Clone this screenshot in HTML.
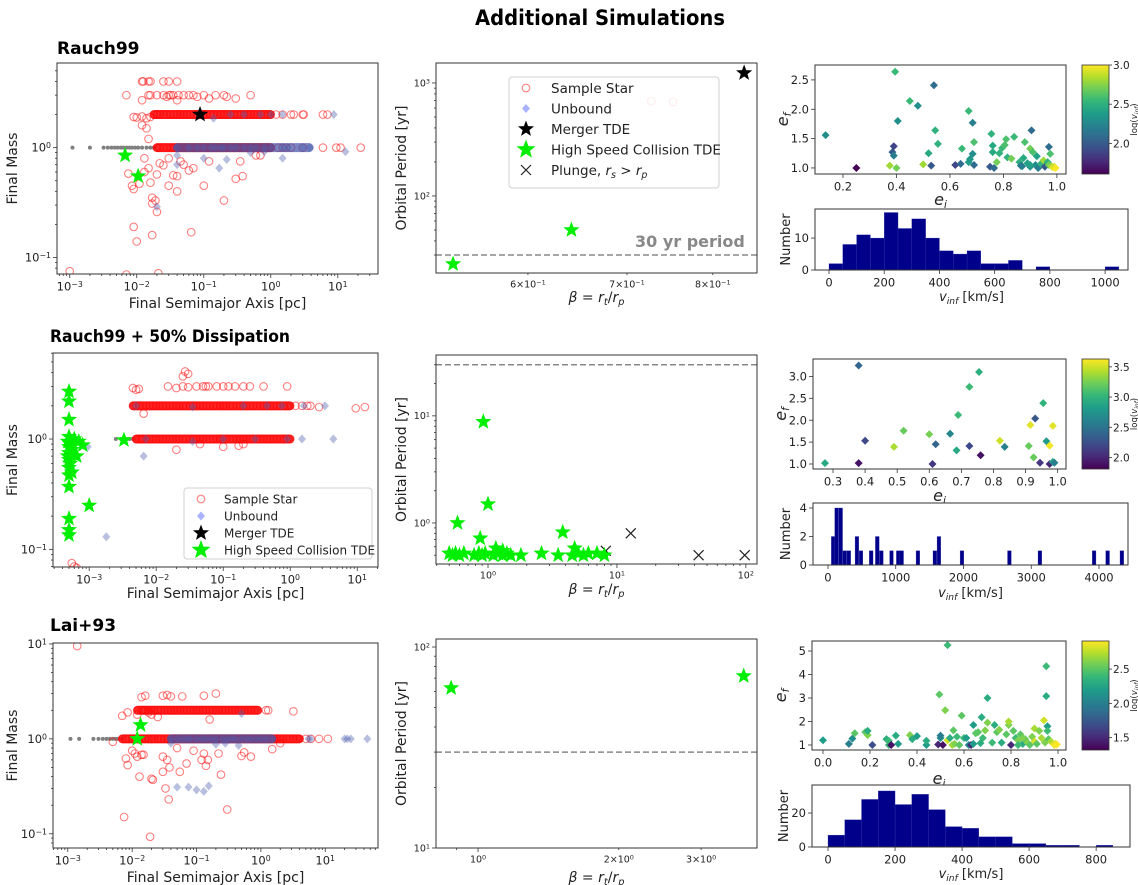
<!DOCTYPE html>
<html><head><meta charset="utf-8"><title>Additional Simulations</title>
<style>
html,body{margin:0;padding:0;background:#fff;}
svg{display:block;font-family:"DejaVu Sans","Liberation Sans",sans-serif;}
</style></head>
<body>
<svg id="fig" width="1138" height="885" viewBox="0 0 1138 885" xmlns="http://www.w3.org/2000/svg">
<defs>
<linearGradient id="vir" x1="0" y1="1" x2="0" y2="0">
<stop offset="0" stop-color="rgb(68,1,84)"/><stop offset="0.11" stop-color="rgb(72,40,120)"/><stop offset="0.22" stop-color="rgb(62,74,137)"/><stop offset="0.33" stop-color="rgb(49,104,142)"/><stop offset="0.44" stop-color="rgb(38,130,142)"/><stop offset="0.56" stop-color="rgb(31,158,137)"/><stop offset="0.67" stop-color="rgb(53,183,121)"/><stop offset="0.78" stop-color="rgb(109,205,89)"/><stop offset="0.89" stop-color="rgb(180,222,44)"/><stop offset="1" stop-color="rgb(253,231,37)"/>
</linearGradient>
</defs>
<text x="600" y="25" text-anchor="middle" font-size="21" font-weight="bold" textLength="250" lengthAdjust="spacingAndGlyphs">Additional Simulations</text>
<text x="57" y="54" font-size="17" font-weight="bold">Rauch99</text>
<text x="50" y="342" font-size="17" font-weight="bold" textLength="240" lengthAdjust="spacingAndGlyphs">Rauch99 + 50% Dissipation</text>
<text x="50" y="631" font-size="17" font-weight="bold">Lai+93</text>
</svg>
<script>
// ---------------- DATA ----------------
const r1Gray = [0.0011,0.002,0.0032,0.0037,0.0042,0.0047,0.0052,0.0058,0.0063,0.007,0.0078,0.0085,0.0095,0.0105,0.012,0.014,0.016,0.018];
const r1BandM2 = [0.018,0.02,0.022,0.025,0.028,0.032,0.036,0.04,0.045,0.05,0.056,0.063,0.071,0.08,0.09,0.1,0.11,0.125,0.14,0.16,0.18,0.2,0.22,0.25,0.28,0.32,0.36,0.4,0.45,0.5,0.56,0.63,0.71,0.8,0.9,1.0];
const r1BandM1 = [0.02,0.022,0.025,0.028,0.032,0.036,0.04,0.045,0.05,0.056,0.063,0.071,0.08,0.09,0.1,0.11,0.125,0.14,0.16,0.18,0.2,0.22,0.25,0.28,0.32,0.36,0.4,0.45,0.5,0.56,0.63,0.71,0.8,0.9,1.0];
const r1Red = [[0.009,1.9],[0.01,1.88],[0.012,1.92],[0.014,1.85],[0.016,1.9],[1.2,2],[1.5,2],[2,2],[2.2,2],[3,2],[3.1,2],[6,2],[7,2],
 [1.3,1],[1.5,1],[1.7,1],[2,1],[3,1],[6,1],[9.5,1],[11,1],[22,1],
 [0.007,3],[0.012,2.7],[0.015,3],[0.016,3],[0.02,3],[0.025,3],[0.028,2.9],[0.03,3],[0.032,3],[0.035,3],[0.04,2.7],[0.042,3],[0.05,3],[0.06,3],[0.07,3],[0.08,2.9],[0.1,3],[0.12,2.8],[0.15,3],[0.2,3],[0.22,2.9],[0.3,2.8],[0.5,3],
 [0.012,4],[0.0125,4],[0.015,4],[0.016,4],[0.025,4],[0.03,4],[0.04,4],
 [0.0075,0.58],[0.0085,0.45],[0.009,0.42],[0.011,0.47],[0.013,0.6],[0.013,0.8],[0.014,1.5],[0.015,1.2],[0.015,0.65],[0.016,0.48],[0.017,0.35],[0.017,0.31],[0.019,0.33],[0.02,0.26],[0.02,0.57],[0.022,0.72],[0.025,0.69],[0.03,0.45],[0.03,0.8],[0.035,0.56],[0.04,0.55],[0.04,0.4],[0.045,0.75],[0.05,0.7],[0.06,0.62],[0.07,0.65],[0.1,0.45],[0.12,0.75],[0.2,0.33],[0.3,0.52],[0.38,0.55],[0.35,0.75],[0.6,0.85],[0.7,0.85],[0.009,0.19],[0.01,0.14],[0.017,0.16],[0.065,0.17],[0.001,0.075],[0.021,0.072],[0.007,0.07],[0.012,1.6]];
const r1UnbBand = [0.04,0.06,0.08,0.1,0.13,0.15,0.18,0.2,0.25,0.3,0.4,0.5,0.6,0.8,1,1.5,1.8,3,3.8];
const r1Unb = [[0.14,1.85],[0.4,2],[0.7,2],[1.5,2],[8.7,2],[1.0,2],[0.25,2],[0.04,0.7],[0.17,0.65],[0.22,0.78],[0.1,0.8],[1.5,0.8],[13,0.92],[0.5,0.9],[0.8,0.92],[0.02,0.29],[0.04,0.85]];
const r1Green = [[0.0067,0.85],[0.0105,0.55]];
const r1Black = [[0.088,2.0]];

const r2Gray = [0.0025,0.003,0.0035,0.004,0.0045];
const r2BandM2 = [0.0045,0.005,0.0056,0.0063,0.0071,0.008,0.009,0.01,0.0112,0.0125,0.014,0.016,0.018,0.02,0.022,0.025,0.028,0.032,0.036,0.04,0.045,0.05,0.056,0.063,0.071,0.08,0.09,0.1,0.11,0.125,0.14,0.16,0.18,0.2,0.22,0.25,0.28,0.32,0.36,0.4,0.45,0.5,0.56,0.63,0.71,0.8,0.9,1.0];
const r2BandM1 = [0.005,0.0056,0.0063,0.0071,0.008,0.009,0.01,0.0112,0.0125,0.014,0.016,0.018,0.02,0.022,0.025,0.028,0.032,0.036,0.04,0.045,0.05,0.056,0.063,0.071,0.08,0.09,0.1,0.11,0.125,0.14,0.16,0.18,0.2,0.22,0.25,0.28,0.32,0.36,0.4,0.45,0.5,0.56,0.63,0.71,0.8,0.9,1.0];
const r2Red = [[1.2,2],[1.5,2],[1.8,2],[2,2],[2.7,1.95],[9.5,1.9],[13,1.95],
 [0.0065,1.7],[0.02,0.8],[0.1,0.85],[0.17,0.87],[0.2,0.9],[0.045,0.9],[0.006,1.0],
 [0.0045,2.9],[0.005,2.8],[0.0055,2.85],[0.015,3],[0.02,2.9],[0.025,3],[0.03,2.95],[0.04,3],[0.05,3],[0.055,3],[0.06,3],[0.08,3],[0.1,3],[0.12,3],[0.15,3],[0.2,3],[0.25,3],[0.4,3],[0.9,3],
 [0.025,3.7],[0.027,4.1],[0.03,3.9],[0.00055,0.075],[0.0006,0.07],[0.00065,0.068]];
const r2UnbBand = [];
const r2Unb = [[0.005,2],[0.035,1.95],[0.2,2],[0.45,2],[0.75,2],[1.6,2],[3.3,2],[0.007,1],[0.035,0.95],[0.1,1],[0.3,1],[1.5,1],[4.4,1],[0.0065,0.7],[0.0018,0.13],[0.00095,0.85],[0.9,1]];
const r2Green = [[0.0005,2.7],[0.0005,2.2],[0.0005,1.5],[0.0005,1.05],[0.00048,0.95],[0.00052,0.9],[0.0005,0.85],[0.00055,0.8],[0.0005,0.75],[0.00048,0.7],[0.0005,0.65],[0.00052,0.6],[0.0005,0.55],[0.00055,0.5],[0.0005,0.47],[0.0005,0.37],[0.0005,0.19],[0.0005,0.15],[0.0005,0.135],[0.001,0.25],[0.0033,0.98],[0.0006,1.0],[0.0007,0.95],[0.0008,0.88],[0.00065,0.7]];
const r2Black = [];

const r3Gray = [0.0011,0.0015,0.0025,0.003,0.0035,0.004,0.0045,0.005,0.0055,0.006,0.007];
const r3BandM2 = [0.012,0.014,0.016,0.018,0.02,0.022,0.025,0.028,0.032,0.036,0.04,0.045,0.05,0.056,0.063,0.071,0.08,0.09,0.1,0.11,0.125,0.14,0.16,0.18,0.2,0.22,0.25,0.28,0.32,0.36,0.4,0.45,0.5,0.56,0.63,0.71,0.8,0.9];
const r3BandM1 = [0.007,0.008,0.009,0.01,0.0112,0.0125,0.014,0.016,0.018,0.02,0.022,0.025,0.028,0.032,0.036,0.04,0.045,0.05,0.056,0.063,0.071,0.08,0.09,0.1,0.11,0.125,0.14,0.16,0.18,0.2,0.22,0.25,0.28,0.32,0.36,0.4,0.45,0.5,0.56,0.63,0.71,0.8,0.9,1.0,1.12,1.25,1.4,1.6,1.8,2,2.2,2.5,2.8,3.2,3.6,4];
const r3Red = [[0.007,1.75],[0.0085,1.9],[0.012,1.8],[0.015,2],[0.018,1.9],[0.02,1.8],[0.025,1.7],[1.2,2],[1.3,2],[3.2,1.95],[0.16,1.6],
 [5,1],[6,1],[8,1],[11,1],[0.005,0.93],[2,0.9],
 [0.014,2.75],[0.016,2.85],[0.03,2.85],[0.035,2.9],[0.04,2.8],[0.06,2.8],[0.13,2.85],[0.2,3.0],
 [0.0014,9.5],[0.008,0.62],[0.0085,0.53],[0.01,0.75],[0.011,0.7],[0.012,0.65],[0.013,0.4],[0.014,0.68],[0.015,0.68],[0.02,0.38],[0.021,0.37],[0.03,0.65],[0.03,0.45],[0.033,0.3],[0.035,0.6],[0.037,0.23],[0.038,0.5],[0.05,0.8],[0.055,0.45],[0.07,0.55],[0.09,0.75],[0.13,0.7],[0.14,0.52],[0.15,0.6],[0.22,0.7],[0.24,0.42],[0.5,0.66],[0.55,0.72],[0.7,0.65],[1.5,0.78],[0.3,0.18],[0.0075,0.15],[0.019,0.093],[0.12,0.6]];
const r3UnbBand = [0.04,0.05,0.06,0.07,0.08,0.1,0.12,0.14,0.17,0.2,0.25,0.3,0.35,0.4,0.5,0.6,0.7,0.85,1.0,1.2,1.5];
const r3Unb = [[5.5,1],[6,1],[20,1],[22,1],[25,1],[45,1],[0.04,0.9],[0.2,0.88],[0.28,0.9],[0.45,0.85],[0.5,1.85],[0.05,0.31],[0.075,0.31],[0.1,0.29],[0.13,0.28],[0.155,0.32]];
const r3Green = [[0.0135,1.4],[0.012,1.0]];
const r3Black = [];

const m1Green = [[0.534,25],[0.642,50]];
const m1Red = [[0.727,690],[0.752,680]];
const m1Black = [[0.84,1226]];
const m1Cross = [];
const m2Green = [[0.5,0.52],[0.53,0.5],[0.56,0.52],[0.6,0.5],[0.65,0.52],[0.78,0.5],[0.85,0.52],[0.9,0.5],[0.95,0.52],[1.1,0.5],[1.2,0.52],[1.3,0.5],[1.4,0.52],[1.5,0.5],[1.8,0.5],[2.6,0.52],[3.5,0.5],[4.5,0.5],[5,0.52],[5.5,0.5],[6,0.52],[7,0.52],[8,0.5],
 [0.58,1.0],[0.92,8.8],[1.0,1.5],[0.87,0.72],[3.8,0.82],[4.7,0.58],[1.15,0.58],[1.3,0.55]];
const m2Red = [];
const m2Black = [];
const m2Cross = [[8.2,0.55],[12.8,0.80],[43,0.5],[98,0.5]];
const m3Green = [[0.876,62.5],[3.7,71.7]];
const periodCut = 30;

const s1Pts = [[0.135,1.56,2.3],[0.25,1.0,1.6],[0.375,1.04,2.8],[0.385,1.27,2.0],[0.39,1.37,1.9],[0.39,1.21,2.2],[0.395,2.64,2.55],[0.4,1.0,2.7],[0.405,1.8,2.3],[0.45,2.14,2.55],[0.48,2.06,2.3],[0.5,1.06,2.8],[0.52,1.25,2.45],[0.53,1.04,2.0],[0.54,2.41,2.1],[0.545,1.64,2.5],[0.555,1.41,2.5],[0.62,1.05,1.9],[0.64,1.07,2.1],[0.645,1.33,2.55],[0.67,1.97,2.55],[0.67,1.1,2.4],[0.675,1.15,2.35],[0.685,1.77,2.2],[0.685,1.24,2.3],[0.69,1.44,2.6],[0.69,1.05,2.1],[0.75,1.02,2.0],[0.755,1.58,2.5],[0.76,1.38,2.45],[0.76,1.27,2.45],[0.765,1.0,2.1],[0.775,1.1,2.7],[0.785,1.25,2.5],[0.795,1.34,2.55],[0.805,1.39,2.6],[0.81,1.49,2.6],[0.815,1.18,2.5],[0.83,1.16,2.7],[0.84,1.53,2.55],[0.86,1.1,2.5],[0.865,1.04,2.2],[0.87,1.03,2.2],[0.875,1.17,2.45],[0.88,1.44,2.6],[0.89,1.08,2.4],[0.9,1.33,2.7],[0.905,1.64,2.1],[0.91,1.27,2.6],[0.9,1.02,2.3],[0.92,1.05,2.3],[0.925,1.2,2.4],[0.93,1.0,2.2],[0.94,1.07,2.5],[0.95,1.13,2.8],[0.955,1.02,2.0],[0.965,1.1,2.5],[0.97,1.36,2.1],[0.975,1.24,2.6],[0.97,1.05,2.7],[0.98,1.03,2.8],[0.985,1.01,2.95],[0.99,1.02,2.9],[0.995,1.0,3.0],[0.9,1.05,2.4]];
const s2Pts = [[0.275,1.02,2.9],[0.38,3.25,2.4],[0.38,1.02,1.9],[0.4,1.53,2.2],[0.49,1.39,3.4],[0.52,1.76,3.2],[0.6,1.68,3.25],[0.61,1.0,2.1],[0.62,1.45,2.4],[0.665,1.69,2.65],[0.685,1.31,2.9],[0.69,2.12,3.05],[0.725,1.41,2.2],[0.725,2.76,3.05],[0.755,3.1,2.95],[0.76,1.2,1.9],[0.82,1.53,3.5],[0.835,1.39,2.6],[0.91,1.41,3.2],[0.915,1.89,3.55],[0.925,1.15,3.2],[0.93,2.04,2.3],[0.945,1.03,2.1],[0.955,2.39,3.0],[0.965,1.52,2.8],[0.975,1.42,3.6],[0.975,1.0,2.0],[0.985,1.87,3.55],[0.985,1.05,2.9],[0.99,1.03,2.6]];
const s3Pts = [[0.0,1.2,2.2],[0.11,1.05,2.0],[0.125,1.27,2.1],[0.135,1.5,2.5],[0.18,1.55,2.5],[0.19,1.42,2.6],[0.19,1.6,2.3],[0.21,1.0,1.7],[0.27,1.25,2.3],[0.28,1.0,2.4],[0.28,1.18,2.4],[0.29,1.0,1.4],[0.31,1.4,2.3],[0.32,1.05,2.2],[0.37,1.42,2.6],[0.38,1.25,2.3],[0.4,1.38,2.2],[0.44,1.0,2.2],[0.44,1.18,2.3],[0.49,1.02,1.5],[0.495,3.15,2.5],[0.5,1.3,2.1],[0.5,1.4,2.0],[0.51,1.0,1.4],[0.52,2.48,2.6],[0.53,5.25,2.4],[0.53,1.2,2.8],[0.54,1.3,2.3],[0.55,1.0,2.7],[0.555,1.62,2.5],[0.56,1.05,2.6],[0.57,1.35,2.4],[0.58,1.0,2.5],[0.59,2.25,2.5],[0.6,1.3,2.4],[0.61,1.3,2.2],[0.62,1.0,2.1],[0.63,1.0,1.5],[0.64,1.05,2.2],[0.64,1.85,2.2],[0.65,1.5,2.5],[0.66,1.55,2.5],[0.67,1.08,2.3],[0.675,2.18,2.3],[0.68,1.3,2.4],[0.69,1.62,2.6],[0.7,3.0,2.3],[0.7,1.95,2.6],[0.72,1.1,2.4],[0.73,1.85,2.3],[0.74,1.55,2.5],[0.75,1.65,2.6],[0.76,1.1,2.3],[0.78,1.45,2.5],[0.79,1.85,2.6],[0.79,2.0,2.7],[0.8,1.0,1.5],[0.81,1.6,2.5],[0.82,1.3,2.4],[0.83,1.2,2.6],[0.84,1.45,2.5],[0.85,1.05,2.3],[0.86,1.25,2.5],[0.87,1.1,2.6],[0.88,1.0,2.5],[0.89,1.35,2.6],[0.9,1.7,2.7],[0.9,1.15,2.8],[0.91,1.05,2.5],[0.92,1.6,2.6],[0.93,1.3,2.7],[0.94,2.05,2.8],[0.945,1.1,2.6],[0.95,4.35,2.4],[0.95,3.08,2.3],[0.955,1.8,2.2],[0.955,1.6,2.4],[0.96,1.25,2.5],[0.97,1.15,2.7],[0.98,1.05,2.8],[0.985,1.0,2.9],[0.99,1.05,2.85],[0.995,1.02,2.9],[0.85,1.3,2.6],[0.83,1.0,2.4]];

const h1Starts = [0,50,100,150,200,250,300,350,400,450,500,550,600,650,700,750,800,850,900,950,1000];
const h1Counts = [2,8,11,10,18,13,16,10,6,5,6,2,2,3,0,1,0,0,0,0,1];
const h1Width = 50;
const h2Starts = [50,100,160,220,280,400,460,610,700,760,910,1010,1060,1300,1550,1610,1950,2650,3100,3900,4100,4310];
const h2Counts = [2,4,4,1,1,2,1,1,2,1,1,1,1,1,1,2,1,1,1,1,1,1];
const h2Width = 55;
const h3Starts = [0,50,100,150,200,250,300,350,400,450,500,550,600,650,700,750,800];
const h3Counts = [7,16,28,33,25,31,22,12,11,6,6,2,2,1,1,0,1];
const h3Width = 50;

// ---------------- RENDERING ----------------
const svg = document.getElementById('fig');
const NS = 'http://www.w3.org/2000/svg';
let clipId = 0;
function mk(tag, attrs, name, parent) {
  const e = document.createElementNS(NS, tag);
  for (const k in attrs) e.setAttribute(k, attrs[k]);
  
  
  (parent || svg).appendChild(e);
  return e;
}
function txt(x, y, s, size, name, parent, extra) {
  const t = mk('text', Object.assign({x: x, y: y, 'font-size': size, fill: '#222'}, extra || {}), name, parent);
  t.innerHTML = s;
  return t;
}
const supM = e => '10<tspan font-size="0.68em" dy="-0.45em">' + (e < 0 ? '\u2212' + (-e) : e) + '</tspan>';

function makePanel(P) {
  const L = v => P.xlog ? Math.log10(v) : v;
  const M = v => P.ylog ? Math.log10(v) : v;
  P.X = v => P.x0 + (L(v) - P.xr[0]) / (P.xr[1] - P.xr[0]) * (P.x1 - P.x0);
  P.Y = v => P.y1 - (M(v) - P.yr[0]) / (P.yr[1] - P.yr[0]) * (P.y1 - P.y0);
  P.g = mk('g', {}, P.name);
  mk('rect', {x: P.x0, y: P.y0, width: P.x1 - P.x0, height: P.y1 - P.y0, fill: '#fff'}, 'plot-area', P.g);
  const cid = 'clip' + (clipId++);
  const cp = mk('clipPath', {id: cid}, 'clip', P.g);
  mk('rect', {x: P.x0, y: P.y0, width: P.x1 - P.x0, height: P.y1 - P.y0}, 'clip-rect', cp);
  P.d = mk('g', {'clip-path': 'url(#' + cid + ')'}, 'data-layer', P.g);
  return P;
}
function finishPanel(P) {
  const g = mk('g', {}, 'axes', P.g);
  mk('rect', {x: P.x0, y: P.y0, width: P.x1 - P.x0, height: P.y1 - P.y0, fill: 'none', stroke: '#333', 'stroke-width': 1}, 'plot-frame', g);
  const fs = P.fs || 11.5;
  if (P.xlog) {
    for (let n = Math.floor(P.xr[0]); n <= Math.ceil(P.xr[1]); n++) {
      for (let k = 1; k < 10; k++) {
        const v = n + Math.log10(k);
        if (v < P.xr[0] - 1e-9 || v > P.xr[1] + 1e-9) continue;
        const x = P.x0 + (v - P.xr[0]) / (P.xr[1] - P.xr[0]) * (P.x1 - P.x0);
        const len = k === 1 ? 4 : 2;
        mk('line', {x1: x, x2: x, y1: P.y1, y2: P.y1 + len, stroke: '#333', 'stroke-width': 0.8}, 'x-tick', g);
        if (k === 1) txt(x, P.y1 + fs + 5, supM(n), fs, 'x-tick-label', g, {'text-anchor': 'middle'});
        else if (P.xMinorLab && P.xMinorLab.includes(k)) txt(x, P.y1 + fs + 5, k + '\u00d7' + supM(n), fs, 'x-tick-label', g, {'text-anchor': 'middle'});
      }
    }
  } else {
    P.xticks.forEach(v => {
      const x = P.X(v);
      mk('line', {x1: x, x2: x, y1: P.y1, y2: P.y1 + 4, stroke: '#333', 'stroke-width': 0.8}, 'x-tick', g);
      txt(x, P.y1 + fs + 5, v.toFixed(P.xdec), fs, 'x-tick-label', g, {'text-anchor': 'middle'});
    });
  }
  if (P.ylog) {
    for (let n = Math.floor(P.yr[0]); n <= Math.ceil(P.yr[1]); n++) {
      for (let k = 1; k < 10; k++) {
        const v = n + Math.log10(k);
        if (v < P.yr[0] - 1e-9 || v > P.yr[1] + 1e-9) continue;
        const y = P.y1 - (v - P.yr[0]) / (P.yr[1] - P.yr[0]) * (P.y1 - P.y0);
        const len = k === 1 ? 4 : 2;
        mk('line', {x1: P.x0 - len, x2: P.x0, y1: y, y2: y, stroke: '#333', 'stroke-width': 0.8}, 'y-tick', g);
        if (k === 1) txt(P.x0 - 6, y + fs * 0.35, supM(n), fs, 'y-tick-label', g, {'text-anchor': 'end'});
      }
    }
  } else {
    P.yticks.forEach(v => {
      const y = P.Y(v);
      mk('line', {x1: P.x0 - 4, x2: P.x0, y1: y, y2: y, stroke: '#333', 'stroke-width': 0.8}, 'y-tick', g);
      txt(P.x0 - 6, y + fs * 0.36, v.toFixed(P.ydec), fs, 'y-tick-label', g, {'text-anchor': 'end'});
    });
  }
  if (P.xlabel) txt((P.x0 + P.x1) / 2, P.xly, P.xlabel, P.lfs || 14, 'x-axis-title', g, {'text-anchor': 'middle'});
  if (P.ylabel) txt(0, 0, P.ylabel, P.lfs || 14, 'y-axis-title', g, {'text-anchor': 'middle', transform: 'translate(' + P.ylx + ',' + ((P.y0 + P.y1) / 2) + ') rotate(-90)'});
}
function starPts(cx, cy, R) {
  let s = '';
  for (let i = 0; i < 10; i++) {
    const r = i % 2 ? R * 0.42 : R;
    const a = -Math.PI / 2 + i * Math.PI / 5;
    s += (cx + r * Math.cos(a)).toFixed(2) + ',' + (cy + r * Math.sin(a)).toFixed(2) + ' ';
  }
  return s;
}
function redCircle(P, a, m) { mk('circle', {cx: P.X(a), cy: P.Y(m), r: 3.8, fill: 'none', stroke: '#ff0000', 'stroke-opacity': 0.5, 'stroke-width': 1.1}, 'sample-star', P.d); }
function diamond(P, a, m) { const x = P.X(a), y = P.Y(m); mk('polygon', {points: x + ',' + (y - 4.5) + ' ' + (x + 4) + ',' + y + ' ' + x + ',' + (y + 4.5) + ' ' + (x - 4) + ',' + y, fill: '#4d5fb0', 'fill-opacity': 0.4}, 'unbound-star', P.d); }
function star(P, a, m, col, R, name) { mk('polygon', {points: starPts(P.X(a), P.Y(m), R), fill: col}, name, P.d); }
function cross(P, a, m) { const x = P.X(a), y = P.Y(m); mk('path', {d: 'M' + (x - 5) + ',' + (y - 5) + 'L' + (x + 5) + ',' + (y + 5) + 'M' + (x - 5) + ',' + (y + 5) + 'L' + (x + 5) + ',' + (y - 5), stroke: '#222', 'stroke-width': 1.2}, 'plunge-marker', P.d); }
function band(P, arr, m, col, op, name) {
  if (!arr.length) return;
  const xa = P.X(arr[0]), xb = P.X(arr[arr.length - 1]);
  mk('rect', {x: xa - 4, y: P.Y(m) - 4.5, width: xb - xa + 8, height: 9, rx: 4.5, fill: col, 'fill-opacity': op}, name, P.d);
}

function leftPanel(P, gray, b2, b1, reds, unbBand, unb, green, black) {
  makePanel(P);
  gray.forEach(a => mk('circle', {cx: P.X(a), cy: P.Y(1), r: 2, fill: '#808080'}, 'collision-remnant', P.d));
  band(P, b2, 2, '#ff0000', 0.85, 'sample-star-band');
  band(P, b1, 1, '#ff0000', 0.85, 'sample-star-band');
  b2.forEach(a => redCircle(P, a, 2));
  b1.forEach(a => redCircle(P, a, 1));
  reds.forEach(p => redCircle(P, p[0], p[1]));
  band(P, unbBand, 1, '#4050a8', 0.7, 'unbound-band');
  unbBand.forEach(a => diamond(P, a, 1));
  unb.forEach(p => diamond(P, p[0], p[1]));
  green.forEach(p => star(P, p[0], p[1], '#00ee00', 8.5, 'high-speed-collision-tde'));
  black.forEach(p => star(P, p[0], p[1], '#000', 8.5, 'merger-tde'));
  finishPanel(P);
}
leftPanel({name: 'rauch99-mass-panel', x0: 57, x1: 378, y0: 63, y1: 274, xlog: true, ylog: true, xr: [-3.19, 1.6], yr: [-1.15, 0.77], xlabel: 'Final Semimajor Axis [pc]', xly: 308, ylabel: 'Final Mass', ylx: 17},
  r1Gray, r1BandM2, r1BandM1, r1Red, r1UnbBand, r1Unb, r1Green, r1Black);
leftPanel({name: 'dissipation-mass-panel', x0: 53, x1: 378, y0: 353, y1: 567, xlog: true, ylog: true, xr: [-3.54, 1.31], yr: [-1.16, 0.78], xlabel: 'Final Semimajor Axis [pc]', xly: 598, ylabel: 'Final Mass', ylx: 17},
  r2Gray, r2BandM2, r2BandM1, r2Red, r2UnbBand, r2Unb, r2Green, r2Black);
leftPanel({name: 'lai93-mass-panel', x0: 53, x1: 378, y0: 643, y1: 848, xlog: true, ylog: true, xr: [-3.23, 1.82], yr: [-1.15, 1.01], xlabel: 'Final Semimajor Axis [pc]', xly: 882, ylabel: 'Final Mass', ylx: 17},
  r3Gray, r3BandM2, r3BandM1, r3Red, r3UnbBand, r3Unb, r3Green, r3Black);

function legend(x, y, w, h, rows, gap, fs, name, tx) {
  const g = mk('g', {}, name);
  mk('rect', {x: x, y: y, width: w, height: h, rx: 3, fill: '#fff', 'fill-opacity': 0.85, stroke: '#d0d0d0'}, 'legend-box', g);
  const fake = {X: v => v, Y: v => v, d: g};
  rows.forEach((r, i) => {
    const cy = y + 11 + i * gap, cx = x + 17;
    const eg = mk('g', {}, 'legend-entry', g);
    fake.d = eg;
    if (r[0] === 'red') redCircle(fake, cx, cy);
    else if (r[0] === 'unb') { mk('polygon', {points: cx + ',' + (cy - 4.5) + ' ' + (cx + 4) + ',' + cy + ' ' + cx + ',' + (cy + 4.5) + ' ' + (cx - 4) + ',' + cy, fill: '#7080ff', 'fill-opacity': 0.6}, 'legend-marker', eg); }
    else if (r[0] === 'black') star(fake, cx, cy, '#000', 8.5, 'legend-marker');
    else if (r[0] === 'green') star(fake, cx, cy, '#00ee00', 10, 'legend-marker');
    else cross(fake, cx, cy);
    txt(x + (tx || 40), cy + fs * 0.36, r[1], fs, 'legend-label', eg);
  });
}
legend(184, 488, 188, 71, [['red', 'Sample Star'], ['unb', 'Unbound'], ['black', 'Merger TDE'], ['green', 'High Speed Collision TDE']], 17, 12, 'legend-dissipation');

const betaLabel = '<tspan font-style="italic">β</tspan> = <tspan font-style="italic">r</tspan><tspan font-size="0.7em" dy="3" font-style="italic">t</tspan><tspan dy="-3">/</tspan><tspan font-style="italic">r</tspan><tspan font-size="0.7em" dy="3" font-style="italic">p</tspan>';
function midPanel(P, green, red, black, crosses) {
  makePanel(P);
  const yc = P.Y(periodCut);
  mk('line', {x1: P.x0, x2: P.x1, y1: yc, y2: yc, stroke: '#888', 'stroke-width': 1.5, 'stroke-dasharray': '6,3'}, 'period-threshold-line', P.d);
  red.forEach(p => redCircle(P, p[0], p[1]));
  crosses.forEach(p => cross(P, p[0], p[1]));
  green.forEach(p => star(P, p[0], p[1], '#00ee00', 8.5, 'high-speed-collision-tde'));
  black.forEach(p => star(P, p[0], p[1], '#000', 8.5, 'merger-tde'));
  finishPanel(P);
}
const mp1 = {name: 'rauch99-period-panel', x0: 436, x1: 757, y0: 63, y1: 273, xlog: true, ylog: true, xr: [Math.log10(0.52), Math.log10(0.857)], yr: [Math.log10(20.8), Math.log10(1503)], xMinorLab: [6, 7, 8], fs: 9.5, xlabel: betaLabel, xly: 302, ylabel: 'Orbital Period [yr]', ylx: 406};
midPanel(mp1, m1Green, m1Red, m1Black, m1Cross);
txt(635, 247, '30 yr period', 16, 'period-threshold-label', mp1.g, {fill: '#888', 'font-weight': 'bold'});
legend(509, 77, 210, 111, [['red', 'Sample Star'], ['unb', 'Unbound'], ['black', 'Merger TDE'], ['green', 'High Speed Collision TDE'], ['x', 'Plunge, <tspan font-style="italic">r</tspan><tspan font-size="0.7em" dy="3" font-style="italic">s</tspan><tspan dy="-3"> &gt; </tspan><tspan font-style="italic">r</tspan><tspan font-size="0.7em" dy="3" font-style="italic">p</tspan>']], 20.5, 13.5, 'legend-main', 42);
midPanel({name: 'dissipation-period-panel', x0: 436, x1: 757, y0: 355, y1: 564, xlog: true, ylog: true, xr: [Math.log10(0.395), Math.log10(122)], yr: [Math.log10(0.414), Math.log10(37)], fs: 9.5, xlabel: betaLabel, xly: 594, ylabel: 'Orbital Period [yr]', ylx: 406}, m2Green, m2Red, m2Black, m2Cross);
midPanel({name: 'lai93-period-panel', x0: 436, x1: 757, y0: 639, y1: 848, xlog: true, ylog: true, xr: [Math.log10(0.813), Math.log10(3.95)], yr: [1, Math.log10(109.6)], xMinorLab: [2, 3], fs: 9.5, xlabel: betaLabel, xly: 882, ylabel: 'Orbital Period [yr]', ylx: 406}, m3Green, [], [], []);

const VIR = [[68,1,84],[72,40,120],[62,74,137],[49,104,142],[38,130,142],[31,158,137],[53,183,121],[109,205,89],[180,222,44],[253,231,37]];
function viridis(t) {
  t = Math.max(0, Math.min(1, t)) * (VIR.length - 1);
  const i = Math.min(VIR.length - 2, Math.floor(t)), f = t - i;
  const c = VIR[i].map((v, k) => Math.round(v + (VIR[i + 1][k] - v) * f));
  return 'rgb(' + c.join(',') + ')';
}
function scatterPanel(P, pts, cb) {
  makePanel(P);
  pts.forEach(p => {
    const x = P.X(p[0]), y = P.Y(p[1]);
    const col = viridis((p[2] - cb.lo) / (cb.hi - cb.lo));
    mk('polygon', {points: x + ',' + (y - 4) + ' ' + (x + 4) + ',' + y + ' ' + x + ',' + (y + 4) + ' ' + (x - 4) + ',' + y, fill: col}, 'scatter-point', P.d);
  });
  finishPanel(P);
  const g = mk('g', {}, 'colorbar');
  mk('rect', {x: 1082, y: P.y0, width: 27, height: P.y1 - P.y0, fill: 'url(#vir)', stroke: '#333', 'stroke-width': 0.8}, 'colorbar-gradient', g);
  cb.ticks.forEach(v => {
    const y = P.y1 - (v - cb.lo) / (cb.hi - cb.lo) * (P.y1 - P.y0);
    mk('line', {x1: 1109, x2: 1112, y1: y, y2: y, stroke: '#333', 'stroke-width': 0.8}, 'colorbar-tick', g);
    txt(1113, y + 4, v.toFixed(1), 10.5, 'colorbar-tick-label', g);
  });
  txt(0, 0, 'log(<tspan font-style="italic">v</tspan><tspan font-size="0.7em" dy="2" font-style="italic">inf</tspan><tspan dy="-2">)</tspan>', 8.5, 'colorbar-title', g, {'text-anchor': 'middle', transform: 'translate(1137,' + ((P.y0 + P.y1) / 2) + ') rotate(-90)'});
}
function histPanel(P, starts, counts, w) {
  makePanel(P);
  starts.forEach((s, i) => {
    if (!counts[i]) return;
    mk('rect', {x: P.X(s), y: P.Y(counts[i]), width: P.X(s + w) - P.X(s), height: P.Y(0) - P.Y(counts[i]), fill: '#00008b', stroke: '#3a3aa8', 'stroke-width': 0.3}, 'histogram-bar', P.d);
  });
  finishPanel(P);
}
const efLab = '<tspan font-style="italic">e</tspan><tspan font-size="0.65em" dy="3" font-style="italic">f</tspan>';
const eiLab = '<tspan font-style="italic">e</tspan><tspan font-size="0.65em" dy="3" font-style="italic">i</tspan>';
const vLab = '<tspan font-style="italic">v</tspan><tspan font-size="0.7em" dy="3" font-style="italic">inf</tspan><tspan dy="-3"> [km/s]</tspan>';

scatterPanel({name: 'rauch99-eccentricity-panel', x0: 815, x1: 1066, y0: 65, y1: 174, xr: [0.0954, 1.034], yr: [0.897, 2.754], xticks: [0.2, 0.4, 0.6, 0.8, 1.0], xdec: 1, yticks: [1.0, 1.5, 2.0, 2.5], ydec: 1, xlabel: eiLab, xly: 205, ylabel: efLab, ylx: 788, lfs: 16}, s1Pts, {lo: 1.61, hi: 3.0, ticks: [2.0, 2.5, 3.0]});
histPanel({name: 'rauch99-vinf-histogram', x0: 815, x1: 1128, y0: 209, y1: 270, xr: [-50.7, 1083], yr: [0, 19.1], xticks: [0, 200, 400, 600, 800, 1000], xdec: 0, yticks: [0, 10], ydec: 0, xlabel: vLab, xly: 301, ylabel: 'Number', ylx: 790, lfs: 13}, h1Starts, h1Counts, h1Width);

scatterPanel({name: 'dissipation-eccentricity-panel', x0: 813, x1: 1066, y0: 359, y1: 469, xr: [0.2377, 1.026], yr: [0.886, 3.397], xticks: [0.3, 0.4, 0.5, 0.6, 0.7, 0.8, 0.9, 1.0], xdec: 1, yticks: [1.0, 1.5, 2.0, 2.5, 3.0], ydec: 1, xlabel: eiLab, xly: 501, ylabel: efLab, ylx: 786, lfs: 16}, s2Pts, {lo: 1.81, hi: 3.63, ticks: [2.0, 2.5, 3.0, 3.5]});
histPanel({name: 'dissipation-vinf-histogram', x0: 813, x1: 1128, y0: 503, y1: 565, xr: [-221, 4428], yr: [0, 4.35], xticks: [0, 1000, 2000, 3000, 4000], xdec: 0, yticks: [0, 2, 4], ydec: 0, xlabel: vLab, xly: 597, ylabel: 'Number', ylx: 790, lfs: 13}, h2Starts, h2Counts, h2Width);

scatterPanel({name: 'lai93-eccentricity-panel', x0: 812, x1: 1066, y0: 641, y1: 750, xr: [-0.0468, 1.034], yr: [0.787, 5.426], xticks: [0.0, 0.2, 0.4, 0.6, 0.8, 1.0], xdec: 1, yticks: [1, 2, 3, 4, 5], ydec: 0, xlabel: eiLab, xly: 784, ylabel: efLab, ylx: 786, lfs: 16}, s3Pts, {lo: 1.32, hi: 2.91, ticks: [1.5, 2.0, 2.5]});
histPanel({name: 'lai93-vinf-histogram', x0: 812, x1: 1130, y0: 785, y1: 847, xr: [-47.8, 901], yr: [0, 36.5], xticks: [0, 200, 400, 600, 800], xdec: 0, yticks: [0, 20], ydec: 0, xlabel: vLab, xly: 878, ylabel: 'Number', ylx: 788, lfs: 13}, h3Starts, h3Counts, h3Width);
</script>
</body></html>
